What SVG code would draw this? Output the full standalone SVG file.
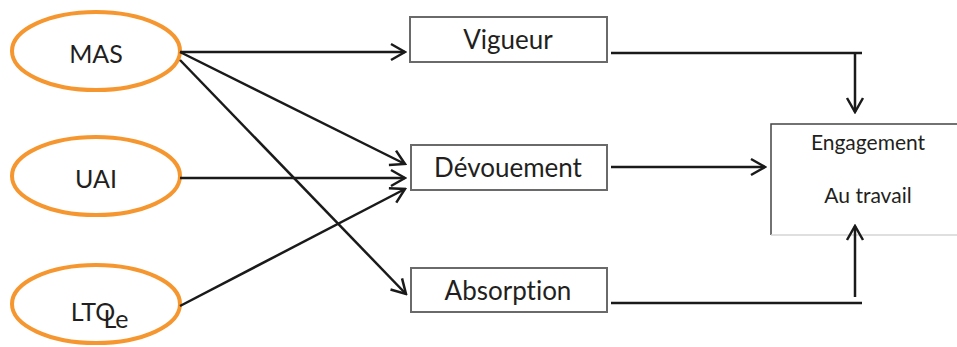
<svg xmlns="http://www.w3.org/2000/svg" width="957" height="347" viewBox="0 0 957 347">
<style>
text{font-variant-ligatures:none;font-feature-settings:"liga" 0}
.ell{fill:none;stroke:#F5962F;stroke-width:4}
.box{fill:#fff;stroke:#6a6a6a;stroke-width:2}
.lbl{font-family:Lato,"Open Sans",sans-serif;font-size:25px;fill:#231f20;text-anchor:middle}
.blbl{font-family:Lato,"Open Sans",sans-serif;font-size:26px;fill:#231f20;text-anchor:middle}
.elbl{font-family:Lato,"Open Sans",sans-serif;font-size:21px;fill:#231f20;text-anchor:middle}
.c{fill:none;stroke:#1a1a1a;stroke-width:2.5}
</style>
<defs>
<marker id="arr" viewBox="-16 -10 18 20" refX="0" refY="0" markerWidth="18" markerHeight="20" markerUnits="userSpaceOnUse" orient="auto">
<path d="M-14,-8 L0,0 L-14,8" fill="none" stroke="#1a1a1a" stroke-width="2.5"/>
</marker>
</defs>
<rect width="957" height="347" fill="#fff"/>
<g id="MAS">
<ellipse class="ell" cx="96" cy="51" rx="84" ry="39"/>
<text class="lbl" x="96" y="63">MAS</text>
</g>
<g id="UAI">
<ellipse class="ell" cx="96" cy="176" rx="84" ry="39"/>
<text class="lbl" x="96" y="188">UAI</text>
</g>
<g id="LTO">
<ellipse class="ell" cx="96" cy="304" rx="84" ry="39"/>
<text class="lbl" x="93" y="321">LTO</text>
<text class="lbl" x="116" y="328">Le</text>
</g>
<g id="Vigueur">
<rect class="box" x="410" y="17" width="197" height="45"/>
<text class="blbl" x="508" y="49">Vigueur</text>
</g>
<g id="Devouement">
<rect class="box" x="411" y="145" width="196" height="45"/>
<text class="blbl" x="508" y="177">Dévouement</text>
</g>
<g id="Absorption">
<rect class="box" x="411" y="268" width="196" height="44"/>
<text class="blbl" x="508" y="300">Absorption</text>
</g>
<g id="Engagement">
<rect x="771" y="124" width="190" height="111" fill="#fff"/>
<polyline points="771,235 771,124 961,124" fill="none" stroke="#444" stroke-width="1.5"/>
<line x1="771" y1="235" x2="961" y2="235" stroke="#d4d4d4" stroke-width="1.5"/>
<text class="elbl" x="868" y="150">Engagement</text>
<text class="elbl" x="868" y="203">Au travail</text>
</g>
<g id="connectors">
<line class="c" x1="180" y1="52" x2="405" y2="52" marker-end="url(#arr)"/>
<line class="c" x1="180" y1="52" x2="405" y2="164" marker-end="url(#arr)"/>
<line class="c" x1="180" y1="60" x2="406" y2="294" marker-end="url(#arr)"/>
<line class="c" x1="180" y1="178" x2="405" y2="178" marker-end="url(#arr)"/>
<line class="c" x1="180" y1="306" x2="405" y2="189" marker-end="url(#arr)"/>
<polyline class="c" points="611,53 862,53"/>
<line class="c" x1="855" y1="53" x2="855" y2="112" marker-end="url(#arr)"/>
<line class="c" x1="611" y1="167" x2="765" y2="167" marker-end="url(#arr)"/>
<polyline class="c" points="611,303 862,303"/>
<line class="c" x1="855" y1="297" x2="855" y2="226" marker-end="url(#arr)"/>
</g>
</svg>
